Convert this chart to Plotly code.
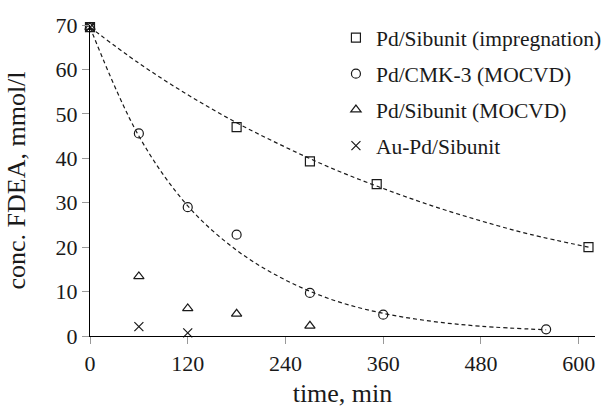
import plotly.graph_objects as go

# Data
t_imp = [0, 180, 270, 352, 612]
c_imp = [69.5, 47.0, 39.3, 34.2, 20.0]

t_cmk = [0, 60, 120, 180, 270, 360, 560]
c_cmk = [69.5, 45.6, 29.0, 22.8, 9.7, 4.8, 1.5]

t_sib = [0, 60, 120, 180, 270]
c_sib = [69.5, 13.4, 6.2, 5.0, 2.3]

t_aupd = [0, 60, 120]
c_aupd = [69.5, 2.1, 0.7]

# Dashed fit curves
fit_imp_t = [0, 60, 120, 180, 240, 300, 360, 420, 480, 540, 612]
fit_imp_c = [69.5, 61.4, 54.3, 48.0, 42.5, 37.5, 33.2, 29.3, 25.9, 22.9, 20.0]

fit_cmk_t = [0, 60, 120, 180, 240, 300, 360, 420, 480, 560]
fit_cmk_c = [69.5, 45.0, 29.3, 19.3, 12.6, 8.0, 5.1, 3.3, 2.2, 1.4]

x_ticks = [0, 120, 240, 360, 480, 600]
y_ticks = [0, 10, 20, 30, 40, 50, 60, 70]

labels = ["Pd/Sibunit (impregnation)", "Pd/CMK-3 (MOCVD)", "Pd/Sibunit (MOCVD)", "Au-Pd/Sibunit"]

FONT = "'Liberation Serif', 'DejaVu Serif', serif"
INK = "#1a1a1a"
dash = "4px,3px"

fig = go.Figure()
fig.add_trace(go.Scatter(x=fit_imp_t, y=fit_imp_c, mode="lines", line=dict(color=INK, width=1.2, dash=dash, shape="spline"),
                         showlegend=False, hoverinfo="skip", cliponaxis=False))
fig.add_trace(go.Scatter(x=fit_cmk_t, y=fit_cmk_c, mode="lines", line=dict(color=INK, width=1.2, dash=dash, shape="spline"),
                         showlegend=False, hoverinfo="skip", cliponaxis=False))

series = [
    (t_imp, c_imp, "square-open", 9),
    (t_cmk, c_cmk, "circle-open", 9),
    (t_sib, c_sib, "triangle-up-open", 9),
    (t_aupd, c_aupd, "x-thin-open", 9),
]
for (tx, cy, sym, sz), name in zip(series, labels):
    fig.add_trace(go.Scatter(x=tx, y=cy, mode="markers", name=name, legendgroup=name,
                             marker=dict(symbol=sym, size=sz, color=INK, line=dict(color=INK, width=1.2)),
                             cliponaxis=False))

fig.update_layout(
    width=612, height=408,
    margin=dict(l=90, r=17, t=25, b=72, autoexpand=False),
    paper_bgcolor="white", plot_bgcolor="white",
    font=dict(family=FONT, size=22, color=INK),
    legend=dict(x=0.487, y=1.025, xanchor="left", yanchor="top", bgcolor="rgba(0,0,0,0)",
                font=dict(family=FONT, size=21.5, color=INK), traceorder="grouped", tracegroupgap=5,
                itemwidth=30),
    xaxis=dict(range=[0, 620], tickvals=x_ticks, ticktext=[str(v) for v in x_ticks],
               showgrid=False, zeroline=False, showline=True, linecolor="black", linewidth=1.3,
               ticks="outside", ticklen=7, tickcolor="#999999", tickwidth=1,
               title=dict(text="time, min", font=dict(family=FONT, size=26), standoff=21),
               tickfont=dict(family=FONT, size=22)),
    yaxis=dict(range=[0, 70], tickvals=y_ticks, ticktext=[str(v) for v in y_ticks],
               showgrid=False, zeroline=False, showline=True, linecolor="black", linewidth=1.3,
               ticks="outside", ticklen=7, tickcolor="#999999", tickwidth=1,
               title=dict(text="conc. FDEA, mmol/l", font=dict(family=FONT, size=26), standoff=22),
               tickfont=dict(family=FONT, size=22)),
)

fig.write_html("out.html")
